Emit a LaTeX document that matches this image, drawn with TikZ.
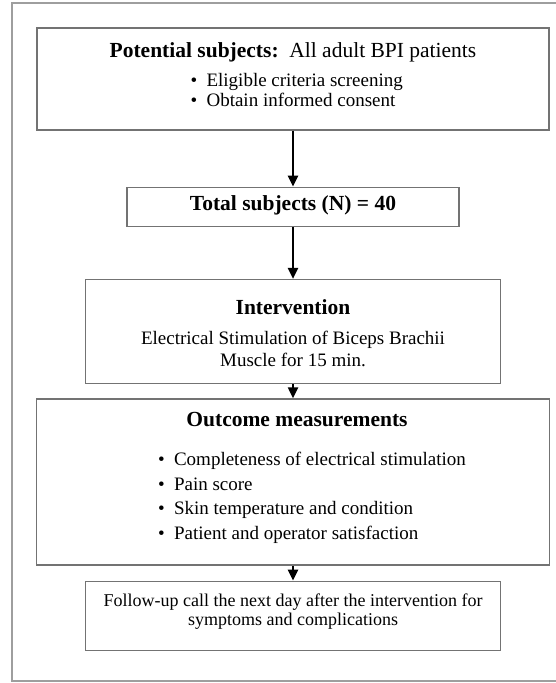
\documentclass[tikz,border=0pt]{standalone}
\usepackage{fontspec}
\setmainfont{Liberation Serif}
\usetikzlibrary{arrows.meta,positioning}

\newcommand{\bul}{\makebox[16pt][l]{\textbullet}}

\begin{document}
\begin{tikzpicture}[
    x=1pt, y=1pt,
    >=Stealth,
    stage/.style={
        rectangle,
        draw=black!55,
        line width=1.3pt,
        inner sep=0pt
    },
    heading/.style={font=\fontsize{21.5}{24}\selectfont\bfseries, inner sep=0pt},
    body/.style={font=\fontsize{19}{19.5}\selectfont, inner sep=0pt, align=left},
    flow/.style={line width=2.4pt, -{Stealth[length=11pt, width=10pt, inset=0pt]}},
    frame/.style={draw=black!38, line width=1.6pt}
]

\useasboundingbox (0,0) rectangle (555,-683);
\draw[frame] (12,-3) rectangle (600,-681);

% ROW 1
\node[stage, minimum width=512pt, minimum height=102pt] (pot) at (293,-79) {};
\node[heading, anchor=north] (potT) at ([yshift=-15pt]pot.north)
    {Potential subjects:\, {\mdseries All adult BPI patients}};
\node[body, anchor=north west] (potL) at ([xshift=154pt, yshift=-46pt]pot.north west)
    {\bul Eligible criteria screening\\ \bul Obtain informed consent};

% ROW 2
\node[stage, minimum width=332pt, minimum height=39pt, below=56pt of pot] (tot) {};
\node[heading] (totT) at ([yshift=1pt]tot) {Total subjects (N) = 40};

% ROW 3
\node[stage, minimum width=415pt, minimum height=104pt, below=52pt of tot] (intv) {};
\node[heading, anchor=north] (intvT) at ([yshift=-20pt]intv.north) {Intervention};
\node[body, align=center, font=\fontsize{19}{22}\selectfont, anchor=north] (intvL)
    at ([yshift=-52pt]intv.north)
    {Electrical Stimulation of Biceps Brachii\\ Muscle for 15 min.};

% ROW 4
\node[stage, minimum width=513pt, minimum height=166pt, below=14pt of intv] (outc) {};
\node[heading, anchor=north] (outcT) at ([xshift=4pt, yshift=-14pt]outc.north)
    {Outcome measurements};
\node[body, font=\fontsize{19}{24.5}\selectfont, anchor=north west] (outcL)
    at ([xshift=122pt, yshift=-54pt]outc.north west)
    {\bul Completeness of electrical stimulation\\
     \bul Pain score\\
     \bul Skin temperature and condition\\
     \bul Patient and operator satisfaction};

% ROW 5
\node[stage, minimum width=415pt, minimum height=69pt, below=15pt of outc] (foll) {};
\node[body, align=center, font=\fontsize{18}{19.5}\selectfont, anchor=north] (follT)
    at ([yshift=-13pt]foll.north)
    {Follow-up call the next day after the intervention for\\ symptoms and complications};

% --- ARROWS ---
\draw[flow] (pot) -- (tot);
\draw[flow] (tot) -- (intv);
\draw[flow] (intv) -- (outc);
\draw[flow] (outc) -- (foll);

\end{tikzpicture}
\end{document}
